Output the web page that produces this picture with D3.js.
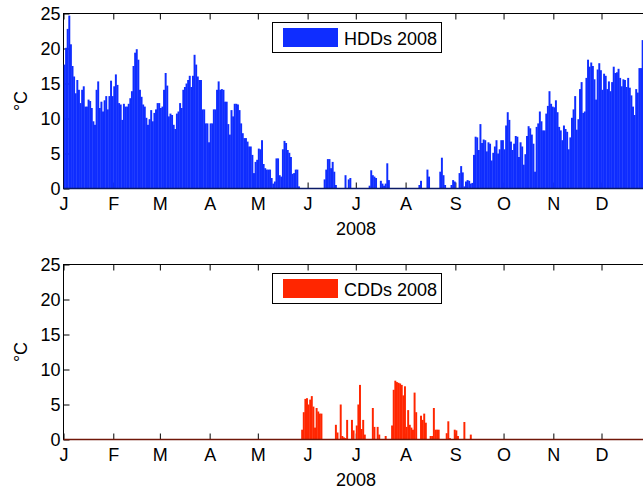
<!DOCTYPE html>
<html><head><meta charset="utf-8">
<script src="https://cdn.jsdelivr.net/npm/d3@7"></script>
<style>html,body{margin:0;padding:0;background:#fff;overflow:hidden}</style>
</head><body>
<svg id="chart" width="660" height="490"></svg>
<script>
// Daily heating degree days, 2008 (366 days, index 0 = 1 Jan)
const hdd2008 = [
17.7,20.1,22.8,24.7,20.6,17.5,16.0,13.6,15.5,14.1,
12.2,14.1,14.6,11.7,11.7,12.7,12.5,11.5,9.6,9.1,
14.1,15.3,11.5,12.4,11.0,12.6,13.2,11.3,13.2,15.4,
13.2,14.6,16.3,14.8,12.2,12.0,9.8,12.1,11.7,11.7,
12.1,12.9,13.9,17.5,19.4,19.9,18.4,14.1,13.1,12.0,
11.7,10.1,9.1,9.9,11.2,9.6,10.8,11.3,12.2,12.2,
11.5,11.7,14.1,16.5,14.7,10.3,10.7,10.5,9.1,8.5,
10.7,11.0,12.2,11.5,14.1,14.5,15.0,15.5,16.1,14.5,
16.1,19.1,17.7,16.0,15.5,15.5,11.3,11.3,9.3,9.3,
6.6,9.3,9.3,11.3,11.3,14.1,15.3,14.1,14.2,14.1,
12.4,12.4,9.2,7.7,11.2,10.3,12.1,12.1,12.0,11.2,
9.3,7.9,7.2,7.2,6.7,6.0,6.0,4.8,2.2,3.8,
4.1,5.7,5.6,6.9,3.5,2.9,2.7,2.7,2.7,1.5,
0.7,1.0,4.3,4.3,1.9,1.7,5.6,6.8,6.5,5.5,
5.1,4.5,2.1,2.2,2.7,2.7,0.3,0,0,0,
0,0,0,0,0,0,0,0,0,0,
0,0,1.3,2.7,4.2,4.2,2.9,3.8,2.4,0.5,
0,0,0,0,0,1.9,0,1.3,1.5,0,
0,0,0,0,0,0,0,0,0,0,
0.4,2.6,1.9,1.7,1.5,0,0,1.1,0.7,0.4,
0.7,3.6,1.2,0,0,0,0,0,0,0,
0,0,0,0,0,0,0,0,0,0,
0,0.5,1.1,0,0,0,2.7,1.7,0,0,
0,0,0,0,2.4,4.4,1.9,0.5,0,0,
0,0.5,1.2,1.0,0,0,2.2,3.2,2.3,0.3,
1.0,1.2,1.1,0.7,0.8,4.8,7.4,7.3,5.5,9.2,
6.5,7.0,6.9,5.3,6.6,6.4,4.0,5.1,6.0,6.9,
5.0,5.6,6.9,6.9,5.6,9.0,10.9,9.8,6.7,5.5,
6.4,7.5,7.4,4.5,6.6,6.0,3.4,4.9,7.5,8.9,
8.6,7.7,6.4,2.4,8.8,9.3,11.0,9.6,8.3,8.3,
10.7,11.8,13.9,12.1,11.7,11.6,12.6,10.9,8.8,8.3,
6.9,9.0,8.5,8.1,5.6,7.3,10.1,11.3,13.2,8.4,
9.9,14.2,15.2,10.8,11.0,15.8,18.4,17.4,18.0,17.5,
15.6,12.7,17.0,17.9,16.9,14.1,16.4,16.1,14.2,15.3,
13.9,15.2,17.4,16.5,16.6,17.1,15.8,14.6,15.6,15.5,
14.5,15.8,14.4,13.3,11.7,10.5,14.2,13.7,17.2,17.2,
21.2,20.4,19.0,17.8,18.6,19.6
];
// Daily cooling degree days, 2008
const cdd2008 = [
0,0,0,0,0,0,0,0,0,0, 0,0,0,0,0,0,0,0,0,0,
0,0,0,0,0,0,0,0,0,0, 0,0,0,0,0,0,0,0,0,0,
0,0,0,0,0,0,0,0,0,0, 0,0,0,0,0,0,0,0,0,0,
0,0,0,0,0,0,0,0,0,0, 0,0,0,0,0,0,0,0,0,0,
0,0,0,0,0,0,0,0,0,0, 0,0,0,0,0,0,0,0,0,0,
0,0,0,0,0,0,0,0,0,0, 0,0,0,0,0,0,0,0,0,0,
0,0,0,0,0,0,0,0,0,0, 0,0,0,0,0,0,0,0,0,0,
0,0,0,0,0,0,0,0,1.4,3.9,
5.8,5.9,5.0,5.7,6.2,4.7,1.7,4.5,4.0,3.7,
3.7,0,0,0,0,0,0,0,0,2.1,
1.0,0,5.0,0.5,0.3,0.2,2.8,0,0,2.8,
1.3,0,2.0,5.0,7.8,1.5,2.8,0.7,0,0,
0,0,4.5,1.8,0,1.8,0.7,0,0,0,
0.5,0,0,0,2.0,7.1,8.4,8.2,8.1,8.0,
7.8,6.3,7.6,1.8,4.2,2.1,1.7,1.4,6.7,3.9,
0,0,3.4,2.8,3.7,2.4,0,0,0.5,0.5,
4.5,1.4,1.4,1.4,0,0,0,0,0.9,2.6,
0.2,0,0,1.4,1.3,0.5,0,0,0,2.5,
0,0,0,0.7,0,0,0,0,0,0,
0,0,0,0,0,0,0,0,0,0, 0,0,0,0,0,0,0,0,0,0,
0,0,0,0,0,0,0,0,0,0, 0,0,0,0,0,0,0,0,0,0,
0,0,0,0,0,0,0,0,0,0, 0,0,0,0,0,0,0,0,0,0,
0,0,0,0,0,0,0,0,0,0, 0,0,0,0,0,0,0,0,0,0,
0,0,0,0,0,0,0,0,0,0, 0,0,0,0,0,0,0,0,0,0,
0,0,0,0,0,0
];
const monthStartDays = [0,31,60,91,121,152,182,213,244,274,305,335];
const monthLabels = ["J","F","M","A","M","J","J","A","S","O","N","D"];
const yTicks = [0,5,10,15,20,25];
const daysInYear = 366;
const yearLabel = "2008";
const yUnit = "°C";
const seriesNames = ["HDDs 2008","CDDs 2008"];

const FONT = "'Liberation Sans', Arial, Helvetica, sans-serif";
const svg = d3.select("#chart");
const x = d3.scaleLinear().domain([0, daysInYear]).range([63.5, 651.3]);

const panels = [
  {name: seriesNames[0], values: hdd2008, fill: "#0f2dff", base: "#0b1a66", top: 13.5, bottom: 188.5},
  {name: seriesNames[1], values: cdd2008, fill: "#ff2600", base: "#701708", top: 264.5, bottom: 439.5}
];

panels.forEach((p, pi) => {
  const y = d3.scaleLinear().domain([0, 25]).range([p.bottom, p.top]);
  const g = svg.append("g");

  // frame
  g.append("rect").attr("x", x(0)).attr("y", y(25))
    .attr("width", x(daysInYear) - x(0)).attr("height", y(0) - y(25))
    .attr("fill", "none").attr("stroke", "#000").attr("stroke-width", 1);

  const styleAxis = sel => {
    sel.select(".domain").remove();
    sel.selectAll("line").attr("stroke", "#000");
    sel.selectAll("text").attr("font-family", FONT).attr("font-size", 18).attr("fill", "#000");
  };
  g.append("g").attr("transform", `translate(0,${y(0)})`)
    .call(d3.axisBottom(x).tickValues(monthStartDays).tickFormat((d, i) => monthLabels[i])
      .tickSizeInner(-6).tickSizeOuter(0).tickPadding(9)).call(styleAxis);
  g.append("g").attr("transform", `translate(0,${y(25)})`)
    .call(d3.axisTop(x).tickValues(monthStartDays).tickFormat("")
      .tickSizeInner(-6).tickSizeOuter(0)).call(styleAxis);
  g.append("g").attr("transform", `translate(${x(0)},0)`)
    .call(d3.axisLeft(y).tickValues(yTicks).tickSizeInner(-6).tickSizeOuter(0).tickPadding(3))
    .call(styleAxis);
  g.append("g").attr("transform", `translate(${x(daysInYear)},0)`)
    .call(d3.axisRight(y).tickValues(yTicks).tickFormat("").tickSizeInner(-6).tickSizeOuter(0))
    .call(styleAxis);

  // bars
  const clipId = "clip" + pi;
  svg.append("clipPath").attr("id", clipId).append("rect")
    .attr("x", x(0)).attr("y", y(25)).attr("width", x(daysInYear) - x(0)).attr("height", y(0) - y(25));
  g.append("g").attr("clip-path", `url(#${clipId})`)
    .selectAll("rect").data(p.values).join("rect")
    .attr("x", (v, i) => x(i))
    .attr("width", (v, i) => x(i + 1) - x(i) + 0.35)
    .attr("y", v => y(v))
    .attr("height", v => y(0) - y(v))
    .attr("fill", p.fill);

  // zero baseline (bar edges)
  g.append("line").attr("x1", x(0)).attr("x2", x(daysInYear))
    .attr("y1", y(0)).attr("y2", y(0)).attr("stroke", p.base).attr("stroke-width", 1.6);

  // legend
  const lg = g.append("g").attr("transform", `translate(272.5,${y(25) + 9})`);
  lg.append("rect").attr("width", 169).attr("height", 30)
    .attr("fill", "#fff").attr("stroke", "#000").attr("stroke-width", 1);
  lg.append("rect").attr("x", 10.5).attr("y", 5.5).attr("width", 55).attr("height", 19).attr("fill", p.fill);
  lg.append("text").attr("x", 71.5).attr("y", 22.5).attr("font-family", FONT).attr("font-size", 18)
    .attr("fill", "#000").text(p.name);

  // axis labels
  g.append("text").attr("x", 356).attr("y", y(0) + 46.5).attr("text-anchor", "middle")
    .attr("font-family", FONT).attr("font-size", 18).text(yearLabel);
  g.append("text").attr("transform", `translate(27,${(y(0) + y(25)) / 2}) rotate(-90)`)
    .attr("text-anchor", "middle").attr("font-family", FONT).attr("font-size", 18).text(yUnit);
});
</script>
</body></html>
